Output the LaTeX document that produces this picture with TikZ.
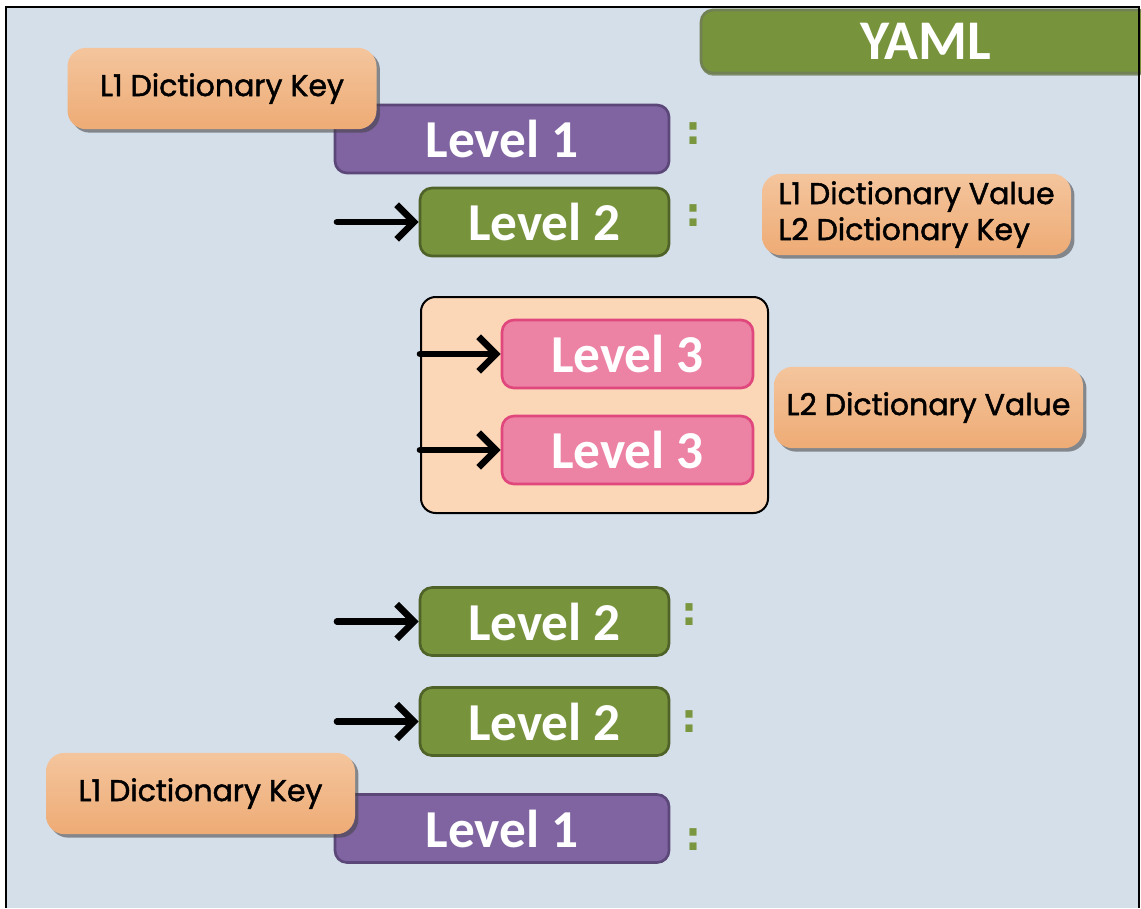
\documentclass[tikz,border=0pt]{standalone}
\usepackage{fontspec}
\setmainfont{Carlito}
\newfontfamily\comicfont{Poppins}[FakeBold=1.5]
\newfontfamily\colonfont{DejaVu Sans}
\usetikzlibrary{arrows.meta,shadows}
\definecolor{panelbg}{HTML}{D5DFEA}
\definecolor{purplefill}{HTML}{8064A2}
\definecolor{purpleedge}{HTML}{5C4779}
\definecolor{greenfill}{HTML}{77933C}
\definecolor{greenedge}{HTML}{4F6228}
\definecolor{pinkfill}{HTML}{EC82A4}
\definecolor{pinkedge}{HTML}{E0477D}
\definecolor{peach}{HTML}{FBD7B7}
\definecolor{orangetop}{HTML}{F4C59D}
\definecolor{orangebot}{HTML}{EEAB75}
\definecolor{colongreen}{HTML}{7A963F}
\tikzset{
  lvl/.style={rounded corners=9pt, line width=2pt, text=white, inner sep=0pt,
    font=\bfseries\fontsize{40}{42}\selectfont, minimum height=51pt},
  lvlone/.style={lvl, fill=purplefill, draw=purpleedge, minimum width=250.5pt},
  lvltwo/.style={lvl, fill=greenfill, draw=greenedge, minimum width=186.75pt},
  lvlthree/.style={lvl, fill=pinkfill, draw=pinkedge, minimum width=188.25pt},
  keybox/.style={rounded corners=14pt, top color=orangetop, bottom color=orangebot,
    draw=none, inner sep=0pt, text=black, minimum width=231.75pt, minimum height=61pt,
    drop shadow={shadow xshift=2.6pt, shadow yshift=-2.6pt, fill=black!75, opacity=0.55},
    font=\comicfont\fontsize{22.5}{27}\selectfont},
  colon/.style={text=colongreen, inner sep=0pt, font=\colonfont\bfseries\fontsize{30}{30}\selectfont},
  arrowline/.style={draw=black, line width=5pt, line cap=round, line join=round,
    -{Straight Barb[length=13pt,width=26pt]}}
}
\begin{document}
\begin{tikzpicture}[x=0.75pt,y=-0.75pt]
\useasboundingbox (0,0) rectangle (1141,908);
\fill[white] (0,0) rectangle (1141,908);
\fill[panelbg] (6,7) rectangle (1139,908);

% YAML header
\node[lvl, fill=greenfill, draw=greenedge!80, minimum width=336.75pt, minimum height=47.25pt,
  font=\bfseries\fontsize{42}{44}\selectfont,
  drop shadow={shadow xshift=0pt, shadow yshift=-2pt, fill=greenedge, opacity=0.6}] (yaml) at (925.5,41.5) {YAML};

% Level 1 (top) with key
\node[lvlone] (l1a) at (502,139) {Level 1};
\node[keybox] (k1a) at (222,88.5) {L1 Dictionary Key};
\node[colon] (c1) at (693.5,134) {:};

% Level 2 (first)
\node[lvltwo] (l2a) at (544.5,222) {Level 2};
\coordinate (s2a) at (337,222);
\path[arrowline] (s2a) -- (l2a.west);
\node[colon] (c2) at (693.5,216) {:};
\node[keybox, align=left] (k2) at (916.5,214.5) {L1 Dictionary Value\\L2 Dictionary Key};

% container with Level 3
\node[draw=black, line width=1.5pt, fill=peach, rounded corners=11pt, minimum width=260.25pt, minimum height=162pt] (box) at (594.5,405) {};
\node[lvlthree] (l3a) at (627.5,354) {Level 3};
\node[lvlthree] (l3b) at (627.5,450) {Level 3};
\coordinate (s3a) at (420,354);
\coordinate (s3b) at (420,450);
\path[arrowline] (s3a) -- (l3a.west);
\path[arrowline] (s3b) -- (l3b.west);
\node[keybox] (k3) at (928.5,407.5) {L2 Dictionary Value};

% Level 2 (second, third)
\node[lvltwo] (l2b) at (544.5,621.5) {Level 2};
\coordinate (s2b) at (337,621.5);
\path[arrowline] (s2b) -- (l2b.west);
\node[colon] (c3) at (689.5,614.5) {:};
\node[lvltwo] (l2c) at (544.5,721.5) {Level 2};
\coordinate (s2c) at (337,721.5);
\path[arrowline] (s2c) -- (l2c.west);
\node[colon] (c4) at (689.5,721.5) {:};

% Level 1 (bottom) with key
\node[lvlone] (l1b) at (502,828.5) {Level 1};
\node[keybox] (k1b) at (200.5,793.5) {L1 Dictionary Key};
\node[colon] (c5) at (693.5,839.5) {:};

% panel border
\draw[black, line width=1.5pt] (6,908) -- (6,7) -- (1139,7) -- (1139,908);
\end{tikzpicture}
\end{document}
